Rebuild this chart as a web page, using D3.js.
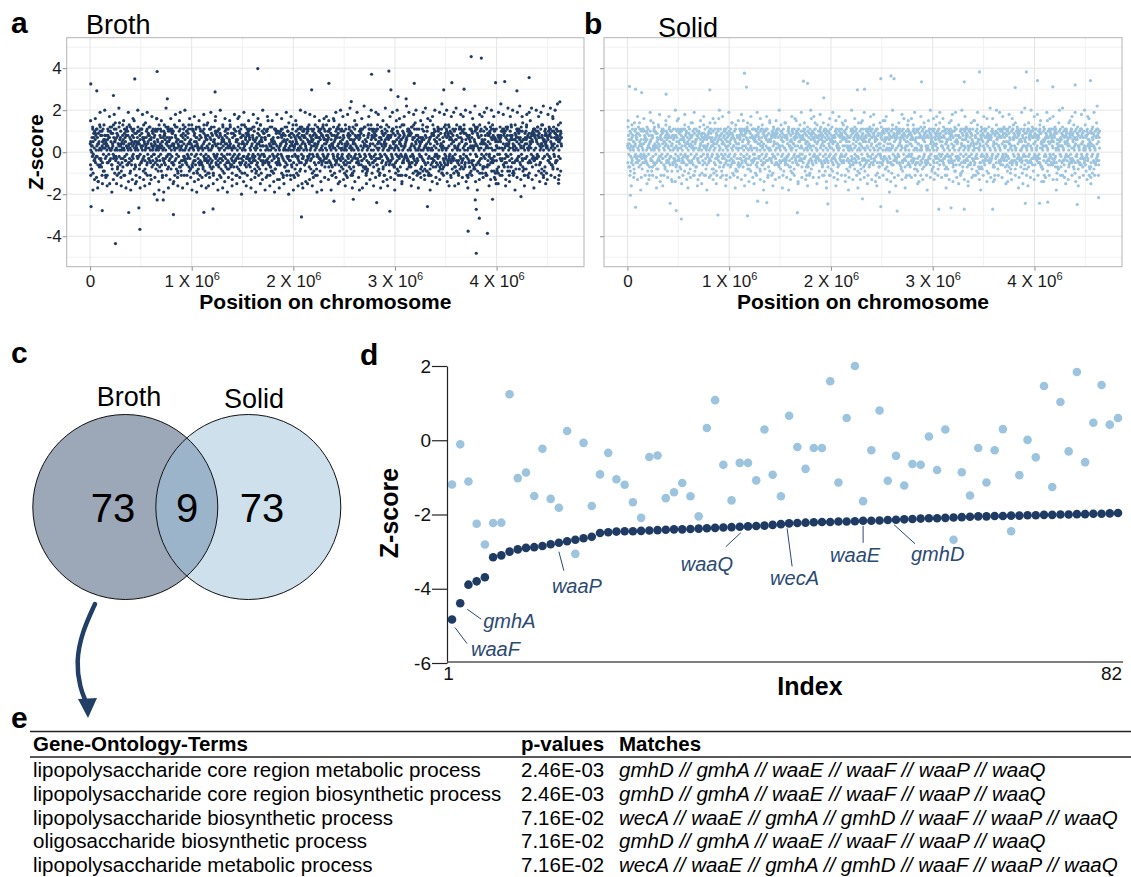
<!DOCTYPE html>
<html>
<head>
<meta charset="utf-8">
<script src="https://cdn.jsdelivr.net/npm/d3@7"></script>
<style>
  body { margin: 0; background: #fff; }
  svg { display: block; font-family: "Liberation Sans", Arial, sans-serif; }
</style>
</head>
<body>
<svg id="fig" width="1131" height="877"></svg>
<script>
// ---------------- data ----------------

// panels a/b: genome-wide Z-scores. The dense cloud is transcribed region by region
// (left to right along the chromosome), one character per gene:
// "0" = 0, a..z = +0.1..+2.6, A..Z = -0.1..-2.6
const genomeLength = 4.64e6;

const brothCloud = [
  "dFaHc0gBkeAiDbjCfEhaLcBgdNiaeCmbFhDaGjcEbkAfdIhbCe", "hBdaKfcEjAbgDlaCeiFbHdcAmgBeJafDkbCiaGhEdcBnaFgjCd",
  "aEbhCfdKaiBgeDjcAlbFhaEdmCgbIfaDkeBcjAgdHbiFaecNbd", "gCaeBjdFhAkcEbiDagCfmBedHaJcgbFkdAeiCbhDlaEfgBcjaD",
  "bFcgAhdEkaCjbDfeIaBmcGhdAbjFceKagDbhEifCaldBgeHcAj", "eDbfAkcHagBidEjcFbmaDhgCeAlbIdfBcjEakGbhDceFagiBdK",
  "CaDhbEcjFAgdBkaIeCbHfdAmcGbEjaDhiBcFkeAgdJbCaElbFh", "DbAgEcFjaHdBkeCIbgAfDmcEhbBaJdFgCkaEibDhcGeAlfBdjC",
  "EcBhAjdFbGkaCiEdHbAfgDlcBeJaFhdCkbEgAiDcbHfeAmdGbC", "FaDgBicEkAhbDjCfeGaBlcHdAEibFkgCdJaeDhbBmcFagEiCdh",
  "BeCjAhDfbGaEkcIdBgAfClbHeDaJcFgbEiAkdCheBmaDfgAjcE", "DcAiBgEfaHcjDbkCEaFhdBlGacIeDbAfgJbCekHdaEiBcFjAgD",
  "bEaFcjdAhgBkeCiaDfbGhcEadlBfjCaIbhDecKagFdiBcmaEhb", "cAgdBjeFahCkbDiaEgcHfbAldCjeBaghFdIcbEkaDfjCeBmdAh",
  "aDbgCfeAjhBkcEiadFgbHcAldBejCgaIfDkbhEcaAmgBfdCjbE", "dCaeBhfAgjDkcbEiaFdhGcAblCeJbfDgaEkhBcAidFmbCgeDja",
  "BdAfChEgaJcbDkFaIeBhdCgAlbEfcHjaDbKiCeGafBdhAmcEgb", "CbDaEfAhgBjcFkDaIebGhCdAlfBcJeDaHgbEikAcFdBmaChgEj",
  "EaBgDhcAfjCkbFdIaeHbgCAldBfEjcDaGhbKeAicFdBmgCahDf", "aFbEcgDhAjBkCeidFaGbhEcAlfDjBbIgaCehKdAfcBmEagDibC",
  "cBdAefBgHCjaDkEiFbhaGcEdlAfJBmcgDbIeahEkCfDaJbgAcJ", "dHaBefCgIaDjbKEchFAgdbIlaCeJBfgHdaKCbiEamGDhcfBjAe",
  "bEAgdFCjhaBkGEcidFbJaHgCeDlbAiFCakgJbDEhmcBfAjDgEi", "fCaBhDeCjGbAkfIDbhaEcJgFdlaBiCkGefDjbHAmcaGEifBdKh",
  "aCgbEDhfJAcbkEgDiFabHGcejlAdFBkcIhEbgaDmFjCbhAeJdG", "eGBadfChJbAkcGiDebhFAjdlCgbIfCaEhkDBjgaMefDcIbAhJg",
  "hbAfCegDjbICkadFhGbEjcAldBfhIGcaeKDbjfAmgChEbdIaJf", "cfaDhbgeCjkaBidHfEgcblAejDGfbcHKaidCjfmBgbhEaEicDg",
  "gdbAhfCejBkiaDCghbFjeCAldhBgiFcaEkbJdhgmCfaeIBjhdc", "ebhcAgfDjaBkhiCebgdFjcHalAdgbiEEkfhDcjgmBaefhCjidg"
].join("");

const brothCore = [
  "eHcJgDiBkFdGjCheIbfKcEhgDjaFiCkeBgHdJfcIeGbkDhFjcE", "JdFhCkeGiBjdHfEkcIgDbjEhCfKdGiAejHcFkbDgIeCjhFdBkG",
  "gCjEiFdKbHfJcGeIhDkBfEjCiGdHkFbJeDgIcHfKjEbGiDhCfJ", "DkGfHcJeBiFjDgKhCeIfBjGdHkEcFiJbGhDeKfCjIgEhBdJfGk",
  "iFgCkEhDjBfIdGkHcJeFiBgDjKhEcGfIdBkHjEgCiFdJhKbGeI", "FjBhDiGeKcHfJdBgIkEhCjFgDiBkGeHcJfIdKhBgEjCiFhDkGf",
  "hEjGcIfKdBhFjDgCkIeGbHjFdKcEiGhBfJdIkCgEhFjBiDkGcH", "GcIhEkBfJdGiDhFkCeJgBiHdKfEjCgIhDbFkGeJcHiBdGfKjEh",
  "cKfDhGjBiEgCkFdIhJeBgGkDfHcIjEbKgFhCiDjGeBkIfHdJcG", "EhBjFiCgKdHeJcGfIbDkHgEjCiFdBhKgGeIjcDfHkBiEgJdCfH",
  "jGdKcFhBiEkDgIfJcHeGbKhDjFiCgEkBdIhGfJcEiHkDgBjFeC", "IfCgHdKbJeEiGhDkCfBjIgEdHcKfGiJbDhEkFcGjBiDgHeKfIc"
].join("");

const brothShoulder = [
  "KlMkNlKmLkOlMnKlLmKkNlMoKlLkMnKlMkLpNkLmKlMkNlLoKm", "lKmLkNlMkLmKnLlKoMkLmNkLlMkKpLmNlKkMlLnKmMkLoKlNkM",
  "MkLlKnMkLmKlOkNlMkLmKkNlLmMkKoLlNkMmLkKlNmLkQlKmMk", "kLmKlNkMlLkMoKlNmKkLlMnKkLmMlKoNkLlMkKmNlLkPmKlLkN",
  "LkKmNlMkLlKnMmLkOlKkMlNlKmLkMnKlLoMkKlNmLkMlKpLkMn"
].join("");

const brothTails = [
  "oRpQsOtPqSrOuPoQsRpOtQrPsOqTpRoSuQpOrPsQtOpRqSoPrQ",
  "PsOqRtQpSoPrOqTsPoQrSpOtRqPoSrQpOsTqRoPtQsOrPqSoRp",
  "qoRpsOtqPruQosRpvOqtPsrQouPqsRtpOqvsPrtQosupRqtOsw",
  "rtPqsuOrqtQspvRrqsuPtqOswrPuqtRsvqPrsuQtqsvOruqtwx"
].join("");

// isolated points: [position in Mb, Z-score]
const brothOutliers = [
  [0.007, 3.25], [0.066, 2.92], [0.66, 3.84], [0.44, 3.49], [0.23, 2.70], [0.76, 2.54],
  [1.23, 2.87], [1.65, 3.98], [2.18, 2.97], [2.35, 3.28], [0.25, -4.35], [0.49, -3.67],
  [0.01, -2.59], [0.12, -2.78], [0.38, -2.87], [0.48, -2.65], [0.82, -2.97], [1.12, -2.86],
  [2.08, -3.08], [0.66, -2.27], [0.72, -2.27], [1.21, -2.70], [3.75, 4.55], [3.85, 4.48],
  [4.32, 3.55], [2.94, 3.86], [2.77, 3.71], [3.19, 3.28], [3.56, 3.31], [3.99, 3.31],
  [4.08, 3.36], [4.20, 2.92], [2.95, -2.81], [3.32, -2.59], [3.80, -2.72], [3.83, -3.14],
  [3.72, -3.76], [3.91, -3.86], [3.80, -4.81], [3.79, -2.27], [3.96, -2.24], [2.82, -2.40],
  [2.59, -2.24], [2.40, -2.33], [4.24, -2.11], [4.61, -1.48], [3.48, 2.97], [3.68, 3.00],
  [3.11, 2.54], [3.03, 2.65], [2.57, 2.41], [2.96, 2.97]
];

const solidCloud = [
  "cEbhAfdGjaBicEgDkbFaeHcBjdAhgCfiEbDlaGcehBdAfjCkbEa", "BdAfhCgeDjaEibFkcAhdGbjeCfaIDhgBcEkaFdjbAicHegDfbCl",
  "aDcgBhfEjAidCkbFeagHcBdjEfiAgDbhkCeFajBgcIdhEafCbgD", "EbAhcFgjDaBkeCidGfbAhjEcaDgkBfeIcAhdFjbCgeBaDifkEhc",
  "dAgbEhcjFaCkiBdeGbfAhjCDgaEibKcfdBhaJgeDcAfibEkhCga", "bFcAhdgEjaCkbDifeBgAcjHdaEfkbCgIdhAeBjfDcaGhbkEfAid",
  "CeaBgdFhjAcEkbDigaFcBhjeAdGkfCbiEahDgcBjfAekIbdChgF", "aEdbChgFjAibDkecGfaBhjDciEgbAkfHdaCejBgiFcbDahkEgAf",
  "DbAegChFjbaEkdiCgfBHajcDegAkbFidChaEjgBcfAhkDebGiaC", "bCfaDhgEjAicBkedFgaChjbEidAgkFcbDhaEjfBgicAekDhbCgF",
  "EaChBgdFjkAicDebGhfaCjbEidBgkAfcDhaEjgBciFkeDhbAgCf", "cDbAhgEfjaCkiBdeGhbFajcEgDiAkbCfhDaEjgBcifAkeDhbCga",
  "aBegChDfjAkbciEgdFhaBjcDegIAkbCfhDaEjgBcifAkeDhbCgE", "dFaBhgCejAkicEbdGhaFjbCgeDiAkhBfcDaEjgBcifAkeDhbCga",
  "bEaDgcFhjBkaCidEfgbHAjcDekBgaIfhCbdEjaFgkcAhDibeGf", "CbFaDhgEjcAkbiDeGfhaBjcEdgkAiFbhCaDejgBkcfEhaAidGb",
  "EdAbgChfFjaDkciBegHafCjbDgEkaiBfhCdaEjgFbkcAhDiegB", "aCfDbhEgjAckBidFegaHcjbDEgkAifChbaDejBgcFkhEaAidGf",
  "dBhAcgEfjDakCibFegHbajCdEgkBiaFhcDbaEjgCkfBhAeiDgc", "FbaDhcEgjBkaCidAfegHbcjDaEkgBifChdaEjbgCkfAhDeiBgc",
  "gAcDbEhFaCjkBdiGefAbHcDjEagBkfCidhAEbgFcjDaeIhBkfCd", "eBhDaCgFbjAkdEcifGhBaDcjEbfAgiCkhDeaFbjBgcEidAhfCka",
  "DcaFbEhgBjdAkCiefGbaHdcEjBgfAkiDchEbaFjgCdkAhBeiDgf", "hEbCafDgjBkAicFedGbhaCjEdfBgiAkcDhbEajFgCkdBhAieDcg",
  "bGcAeDhFjBkaCidgEfbHcjDaEkgAfiBchDbaEjFgCkdAhBeiDfa", "fCaEbDhgBjAkcFieDgbHacjEdBkgAfiDchEbajFgCkdBhAieCgb",
  "aDcBfEhgAjCkbFideGbHacjDeBkfAgiEchDbajFgCkdAhBieEgf", "cFbAeDhgCjBkaEidfGbHcajDeAkgBfiEchDbajFgCkdBhAieDgc",
  "dBaFcEhgAjDkbCifeGbHacjEdBkgAfiDchEbajFgCkdAhBieCga", "bEcDaFhgBjAkcCidfGbHacjEdBkgAfiDchEbajFgCkdBhAieDgb"
].join("");

const solidCore = [
  "dGbIfCheJcEgBiDkFcHdjEgBfIcKeDhGbjFcEiHdBgKfCjeGhD", "IcEgBjdFhCkGeIbDjHfCgEkBiFdJcHgDeKbIfGhCjEdBiFgKcH",
  "fBiDgKcHeJdFiCkBgEhIdGjCfKeBhDiFgJcEkHbIdGfCjEhBkD", "CjFeHbIgDkCfJeGhBdIkFcEjHgDbKfIeCgJhBiEdFkGcHjDeIb",
  "hDfBkGcIeJdHgCiFkBeDjGhCfIbKeGdJcHiFgBkEdCjIhDfGeK", "EiCjGdKbHfIeCgDkJcFhBiEgDjKfHcIeGbDkFjChEiBgJdHfCk",
  "gIeDjBhFkCgEiDfKcJhGdBiEjCfHkGdIbEgJcFhDkCiBjEfGhI", "DhGcKeBjFiDgCkHfEjIdBgKcHfGiEjDbCkFhIeGdJcBiHkFgDe",
  "jCgHdKfBiEhDjGcIkFeBhCgJdIfEkDhGcBjFiHeKdCgIbJfEhG", "HeBkDgIcJfEhCjGdKiBfHcEgDjFkCiBhIeGdJcFkDgHbEiCjfG",
  "eJcHfBiDkGhEjCgIdFkBhCjEiGdHfKcBgIeDjFhCkEiGbJdHfc", "GcKhDeIjBfGiCkEhDgJfBiHcEkFdGjCbIhDfKeGiJcHbEgDkFj"
].join("");

const solidShoulder = [
  "lKmLkMnLkKlMoKlLmNkKmLlMkNoLkKmMlLnKkMlOmKlLkMnKpL", "KkMlLnKmLkMoKlNmLkKlMmNkLoKlMkLmKnLlMkKoNmLkMlKpLn",
  "mLlKkNmKlLoMkKmNlLkMlKnMoLkKlMmNkLlKoMkNmLlKkMpLmK", "LmKkNlMlKoLkMmKnLlKkMoNlLmKkMlNkLoKmMlKkNlLpMmKkLl",
  "kNlMmKlLkOmKnLlMkKmNlLoKkMlMnKlLkMoKmNlLkKmMpLlKnK"
].join("");

const solidTails = [
  "oPnqRpOsnQrPoqNtpOrQnsPoqRnpOtqPsnQorPnqOspRqnPotQ",
  "nRqpOsnPtqOrnQpsPqnoRtpQnsOqrPnoqStPnrQopsOqnRtpqs",
  "pQnrsOtqPnosRqpuNtsqOrpnQsuPtqroNspqRtuOnqsPrtqOsv"
].join("");

// isolated points: [position in Mb, Z-score]
const solidOutliers = [
  [0.02, 3.13], [0.08, 3.00], [0.14, 2.84], [1.15, 3.76], [1.17, 3.10], [1.73, 3.38],
  [1.77, 3.28], [2.49, 3.50], [2.59, 3.63], [2.62, 3.50], [2.89, 3.35], [3.31, 3.35],
  [3.46, 3.82], [3.92, 3.82], [4.03, 3.41], [4.55, 3.41], [4.40, 3.20], [4.18, 3.11],
  [3.81, 3.08], [0.81, 2.97], [2.26, 2.97], [2.33, 3.00], [1.93, 2.59], [0.38, 2.76],
  [0.53, -3.18], [0.48, -2.78], [0.42, -2.43], [0.08, -2.62], [0.03, -2.05], [0.89, -2.99],
  [1.18, -3.03], [1.67, -2.88], [1.97, -2.46], [2.31, -2.22], [2.49, -2.59], [2.65, -2.80],
  [3.06, -2.71], [3.18, -2.65], [3.31, -2.71], [3.59, -2.71], [3.91, -2.43], [4.13, -2.38],
  [4.42, -2.49], [4.63, -2.16], [4.05, -2.43], [1.28, -2.33], [1.37, -2.40]
];

const positionTicks = [0, 1e6, 2e6, 3e6, 4e6];
const zTicks = [-4, -2, 0, 2, 4];

// panel c: Venn counts (broth only, shared, solid only)
const vennSets = ["Broth", "Solid"];
const vennCounts = [73, 9, 73];

// panel d: the 82 broth hits, ranked by broth Z-score, with their solid Z-score
const brothHitZ = [
  -4.83, -4.39, -3.89, -3.80, -3.69, -3.15, -3.10, -3.00, -2.94, -2.90, -2.88, -2.85, -2.80, -2.76,
  -2.72, -2.68, -2.64, -2.60, -2.50, -2.48, -2.46, -2.45, -2.45, -2.44, -2.43, -2.42, -2.41, -2.40,
  -2.40, -2.39, -2.38, -2.37, -2.36, -2.35, -2.34, -2.33, -2.32, -2.31, -2.30, -2.28, -2.26, -2.24,
  -2.23, -2.22, -2.21, -2.20, -2.20, -2.19, -2.19, -2.18, -2.17, -2.17, -2.16, -2.15, -2.14, -2.13,
  -2.12, -2.11, -2.10, -2.10, -2.09, -2.08, -2.07, -2.06, -2.05, -2.05, -2.04, -2.04, -2.03, -2.03,
  -2.02, -2.02, -2.01, -2.01, -2.00, -2.00, -1.99, -1.99, -1.98, -1.98, -1.97, -1.96
];
const solidHitZ = [
  -1.19, -0.11, -1.11, -2.25, -2.81, -2.23, -2.22, 1.24, -1.02, -0.87, -1.50, -0.23, -1.58, -1.82,
  0.25, -3.06, -0.07, -1.77, -0.92, -0.34, -1.05, -1.20, -1.67, -2.09, -0.45, -0.41, -1.56, -1.40,
  -1.15, -1.51, -2.05, 0.33, 1.08, -0.66, -1.62, -0.61, -0.61, -1.08, 0.29, -0.93, -1.51, 0.66,
  -0.18, -0.77, -0.21, -0.21, 1.59, -1.14, 0.60, 2.00, -1.64, -0.27, 0.80, -1.09, -0.42, -1.22,
  -0.64, -0.66, 0.10, -0.80, 0.29, -2.68, -0.86, -1.49, -0.21, -1.14, -0.27, 0.30, -2.45, -0.94,
  0.01, -0.46, 1.46, -1.26, 1.03, -0.30, 1.84, -0.59, 0.47, 1.49, 0.42, 0.60
];
const labelledGenes = ["waaF", "gmhA", "waaP", "waaQ", "wecA", "waaE", "gmhD"];
const labelledIndex = [1, 2, 14, 36, 42, 51, 55];
const indexTicks = [1, 82];
const hitZTicks = [-6, -4, -2, 0, 2];

// panel e: GO enrichment table
const goTerms = [
  "lipopolysaccharide core region metabolic process",
  "lipopolysaccharide core region biosynthetic process",
  "lipopolysaccharide biosynthetic process",
  "oligosaccharide biosynthetic process",
  "lipopolysaccharide metabolic process"
];
const goPValues = ["2.46E-03", "2.46E-03", "7.16E-02", "7.16E-02", "7.16E-02"];
const goMatches = [
  "gmhD // gmhA // waaE // waaF // waaP // waaQ",
  "gmhD // gmhA // waaE // waaF // waaP // waaQ",
  "wecA // waaE // gmhA // gmhD // waaF // waaP // waaQ",
  "gmhD // gmhA // waaE // waaF // waaP // waaQ",
  "wecA // waaE // gmhA // gmhD // waaF // waaP // waaQ"
];

// ---------------- drawing ----------------
const svg = d3.select("#fig");
const navy = "#1f3b63";
const lightBlue = "#9cc4de";
const labelNavy = "#2b4a73";

const decodeZ = s => Array.from(s).map(c =>
  c === "0" ? 0 : (c >= "a" ? (c.charCodeAt(0) - 96) : -(c.charCodeAt(0) - 64)) / 10);

// evenly spread the transcribed genes along the chromosome
const spread = (str, phase) => {
  const z = decodeZ(str);
  return z.map((v, i) => ({ pos: (i + phase) / z.length * genomeLength, z: v }));
};

function panelLetter(letter, x, y) {
  svg.append("text").attr("x", x).attr("y", y)
    .attr("font-size", 30).attr("font-weight", "bold").text(letter);
}

function scatterPanel(cfg) {
  const g = svg.append("g");
  const x = d3.scaleLinear().domain([-0.23e6, 4.86e6]).range([cfg.x0, cfg.x1]);
  const y = d3.scaleLinear().domain([-5.45, 5.45]).range([cfg.y1, cfg.y0]);

  // grid
  const minorX = d3.range(0.5e6, 4.6e6, 1e6);
  const minorY = [-5, -3, -1, 1, 3, 5];
  g.append("g").selectAll("line").data(minorX).join("line")
    .attr("x1", d => x(d)).attr("x2", d => x(d)).attr("y1", cfg.y0).attr("y2", cfg.y1)
    .attr("stroke", "#f1f1f1");
  g.append("g").selectAll("line").data(minorY).join("line")
    .attr("y1", d => y(d)).attr("y2", d => y(d)).attr("x1", cfg.x0).attr("x2", cfg.x1)
    .attr("stroke", "#f1f1f1");
  g.append("g").selectAll("line").data(positionTicks).join("line")
    .attr("x1", d => x(d)).attr("x2", d => x(d)).attr("y1", cfg.y0).attr("y2", cfg.y1)
    .attr("stroke", "#e4e4e4");
  g.append("g").selectAll("line").data(zTicks).join("line")
    .attr("y1", d => y(d)).attr("y2", d => y(d)).attr("x1", cfg.x0).attr("x2", cfg.x1)
    .attr("stroke", "#e4e4e4");

  // points: transcribed cloud layers + isolated outliers
  const pts = spread(cfg.cloud, 0.5)
    .concat(spread(cfg.core, 0.81))
    .concat(spread(cfg.shoulder, 0.37))
    .concat(spread(cfg.tails, 0.23))
    .concat(cfg.outliers.map(d => ({ pos: d[0] * 1e6, z: d[1] })));
  g.append("g").selectAll("circle").data(pts).join("circle")
    .attr("cx", d => x(d.pos)).attr("cy", d => y(d.z)).attr("r", 1.6)
    .attr("fill", cfg.color);

  g.append("rect").attr("x", cfg.x0).attr("y", cfg.y0)
    .attr("width", cfg.x1 - cfg.x0).attr("height", cfg.y1 - cfg.y0)
    .attr("fill", "none").attr("stroke", "#b3b3b3");

  // axes
  const xAxis = g.append("g").attr("transform", `translate(0,${cfg.y1})`)
    .call(d3.axisBottom(x).tickValues(positionTicks).tickSize(4).tickPadding(4).tickSizeOuter(0));
  xAxis.select(".domain").remove();
  xAxis.selectAll(".tick line").attr("stroke", "#8c8c8c");
  xAxis.selectAll(".tick text").attr("font-size", 17).attr("fill", "#1a1a1a")
    .attr("font-family", "Liberation Sans, Arial, sans-serif")
    .each(function (d) {
      const t = d3.select(this).text(null);
      if (d === 0) { t.text("0"); return; }
      t.append("tspan").text(`${d / 1e6} X 10`);
      t.append("tspan").attr("dy", -7).attr("font-size", 11).text("6");
    });

  const yAxis = g.append("g").attr("transform", `translate(${cfg.x0},0)`)
    .call(d3.axisLeft(y).tickValues(zTicks).tickSize(4).tickPadding(1).tickSizeOuter(0)
      .tickFormat(cfg.yLabels ? d => String(d) : ""));
  yAxis.select(".domain").remove();
  yAxis.selectAll(".tick line").attr("stroke", "#8c8c8c");
  yAxis.selectAll(".tick text").attr("font-size", 17).attr("fill", "#1a1a1a")
    .attr("font-family", "Liberation Sans, Arial, sans-serif");

  g.append("text").attr("x", (cfg.x0 + cfg.x1) / 2).attr("y", 309)
    .attr("text-anchor", "middle").attr("font-size", 21).attr("font-weight", "bold")
    .text("Position on chromosome");
  if (cfg.yLabels) {
    g.append("text").attr("transform", `translate(43,${y(0)}) rotate(-90)`)
      .attr("text-anchor", "middle").attr("font-size", 21).attr("font-weight", "bold")
      .text("Z-score");
  }
  g.append("text").attr("x", cfg.titleX).attr("y", cfg.titleY)
    .attr("font-size", 27).text(cfg.title);
}

// ---- panel a / b ----
panelLetter("a", 11, 33);
scatterPanel({ x0: 66.7, x1: 584, y0: 37.7, y1: 266.7, cloud: brothCloud, core: brothCore,
  shoulder: brothShoulder, tails: brothTails, outliers: brothOutliers, color: navy,
  yLabels: true, title: "Broth", titleX: 86, titleY: 34 });
panelLetter("b", 584, 34);
scatterPanel({ x0: 604, x1: 1122, y0: 37.7, y1: 266.7, cloud: solidCloud, core: solidCore,
  shoulder: solidShoulder, tails: solidTails, outliers: solidOutliers, color: lightBlue,
  yLabels: false, title: "Solid", titleX: 658, titleY: 37 });

// ---- panel c: Venn ----
panelLetter("c", 11, 363);
const venn = svg.append("g");
const circles = [{ cx: 125.3, cy: 507, r: 92.5, fill: "#9ca7b8" }, { cx: 248.3, cy: 507, r: 92.5, fill: "#cde0ec" }];
venn.append("clipPath").attr("id", "clipLeft").append("circle")
  .attr("cx", circles[0].cx).attr("cy", circles[0].cy).attr("r", circles[0].r);
venn.selectAll("circle.set").data(circles).join("circle").attr("class", "set")
  .attr("cx", d => d.cx).attr("cy", d => d.cy).attr("r", d => d.r).attr("fill", d => d.fill);
venn.append("circle").attr("clip-path", "url(#clipLeft)")
  .attr("cx", circles[1].cx).attr("cy", circles[1].cy).attr("r", circles[1].r).attr("fill", "#9cb4c9");
venn.selectAll("circle.edge").data(circles).join("circle").attr("class", "edge")
  .attr("cx", d => d.cx).attr("cy", d => d.cy).attr("r", d => d.r)
  .attr("fill", "none").attr("stroke", "#111").attr("stroke-width", 1);
venn.selectAll("text.set").data(vennSets).join("text").attr("class", "set")
  .attr("x", (d, i) => [129, 254][i]).attr("y", (d, i) => [405.5, 408][i])
  .attr("text-anchor", "middle").attr("font-size", 27).text(d => d);
venn.selectAll("text.count").data(vennCounts).join("text").attr("class", "count")
  .attr("x", (d, i) => [113, 187, 262][i]).attr("y", 522)
  .attr("text-anchor", "middle").attr("font-size", 40).text(d => d);

// curved arrow from the broth set down to the table
venn.append("path")
  .attr("d", d3.line().curve(d3.curveBasis)([[95, 604], [82, 632], [76, 662], [80, 688], [86, 702]]))
  .attr("fill", "none").attr("stroke", "#213f66").attr("stroke-width", 4.5).attr("stroke-linecap", "round");
venn.append("path").attr("d", "M78,699 L97,698 L88,718 Z").attr("fill", "#213f66");

// ---- panel d ----
panelLetter("d", 360, 365);
const gd = svg.append("g");
const xD = d3.scaleLinear().domain([1, 82]).range([452, 1118]);
const yD = d3.scaleLinear().domain([-6, 2]).range([663, 366]);
const hits = brothHitZ.map((z, i) => ({ index: i + 1, broth: z, solid: solidHitZ[i] }));

gd.append("g").selectAll("circle").data(hits).join("circle")
  .attr("cx", d => xD(d.index)).attr("cy", d => yD(d.solid)).attr("r", 4.3).attr("fill", lightBlue);
gd.append("g").selectAll("circle").data(hits).join("circle")
  .attr("cx", d => xD(d.index)).attr("cy", d => yD(d.broth)).attr("r", 4.3).attr("fill", navy);

const yAxisD = gd.append("g").attr("transform", "translate(447,0)")
  .call(d3.axisLeft(yD).tickValues(hitZTicks).tickSize(15).tickPadding(1).tickSizeOuter(0)
    .tickFormat(d => String(d)));
yAxisD.selectAll("path, line").attr("stroke", "#222").attr("stroke-width", 1.2);
yAxisD.selectAll(".tick text").attr("font-size", 19).attr("fill", "#111")
  .attr("font-family", "Liberation Sans, Arial, sans-serif");

const xAxisD = gd.append("g").attr("transform", "translate(0,662)")
  .call(d3.axisBottom(xD).tickValues(indexTicks).tickSize(0).tickPadding(5));
xAxisD.select(".domain").remove();
xAxisD.append("line").attr("x1", 447).attr("x2", xD(82) + 5)
  .attr("stroke", "#555").attr("stroke-width", 1.6);
xAxisD.selectAll(".tick text").attr("font-size", 19).attr("fill", "#111")
  .attr("font-family", "Liberation Sans, Arial, sans-serif")
  .attr("dx", d => d === 1 ? -4 : -7);

gd.append("text").attr("x", 810).attr("y", 695).attr("text-anchor", "middle")
  .attr("font-size", 25).attr("font-weight", "bold").text("Index");
gd.append("text").attr("transform", "translate(398,513) rotate(-90)")
  .attr("text-anchor", "middle").attr("font-size", 25).attr("font-weight", "bold").text("Z-score");

// gene annotations: leader line offsets and text offsets from each point
const labelLayout = {
  waaF: { l: [3, 8, 15, 24], t: [19, 36] },
  gmhA: { l: [7, 6, 21, 16], t: [23, 25] },
  waaP: { l: [0, 9, 5, 28], t: [-7, 50] },
  waaQ: { l: [1, 6, -14, 20], t: [-59, 44] },
  wecA: { l: [-2, 5, 3, 43], t: [-19, 62] },
  waaE: { l: [0, 5, 0, 22], t: [-33, 41] },
  gmhD: { l: [-2, 5, 19, 24], t: [15, 41] }
};
const annotations = labelledGenes.map((gene, i) => {
  const idx = labelledIndex[i];
  return { gene, px: xD(idx), py: yD(brothHitZ[idx - 1]), ...labelLayout[gene] };
});
gd.append("g").selectAll("line").data(annotations).join("line")
  .attr("x1", d => d.px + d.l[0]).attr("y1", d => d.py + d.l[1])
  .attr("x2", d => d.px + d.l[2]).attr("y2", d => d.py + d.l[3])
  .attr("stroke", labelNavy).attr("stroke-width", 1);
gd.append("g").selectAll("text").data(annotations).join("text")
  .attr("x", d => d.px + d.t[0]).attr("y", d => d.py + d.t[1])
  .attr("font-size", 20).attr("font-style", "italic").attr("fill", labelNavy)
  .text(d => d.gene);

// ---- panel e: table ----
panelLetter("e", 11, 728);
const ge = svg.append("g").attr("font-size", 20.5);
ge.append("line").attr("x1", 30).attr("x2", 1131).attr("y1", 731.5).attr("y2", 731.5)
  .attr("stroke", "#222").attr("stroke-width", 1.5);
ge.append("line").attr("x1", 30).attr("x2", 1131).attr("y1", 757).attr("y2", 757)
  .attr("stroke", "#222").attr("stroke-width", 1.5);

const colX = [33, 521, 619];
const headers = ["Gene-Ontology-Terms", "p-values", "Matches"];
ge.selectAll("text.head").data(headers).join("text").attr("class", "head")
  .attr("x", (d, i) => colX[i]).attr("y", 751).attr("font-weight", "bold").text(d => d);

const rowY = i => 777 + i * 23.8;
ge.selectAll("text.term").data(goTerms).join("text").attr("class", "term")
  .attr("x", colX[0]).attr("y", (d, i) => rowY(i)).text(d => d);
ge.selectAll("text.pval").data(goPValues).join("text").attr("class", "pval")
  .attr("x", colX[1]).attr("y", (d, i) => rowY(i)).text(d => d);
ge.selectAll("text.match").data(goMatches).join("text").attr("class", "match")
  .attr("x", colX[2]).attr("y", (d, i) => rowY(i)).attr("font-style", "italic").text(d => d);
</script>
</body>
</html>
